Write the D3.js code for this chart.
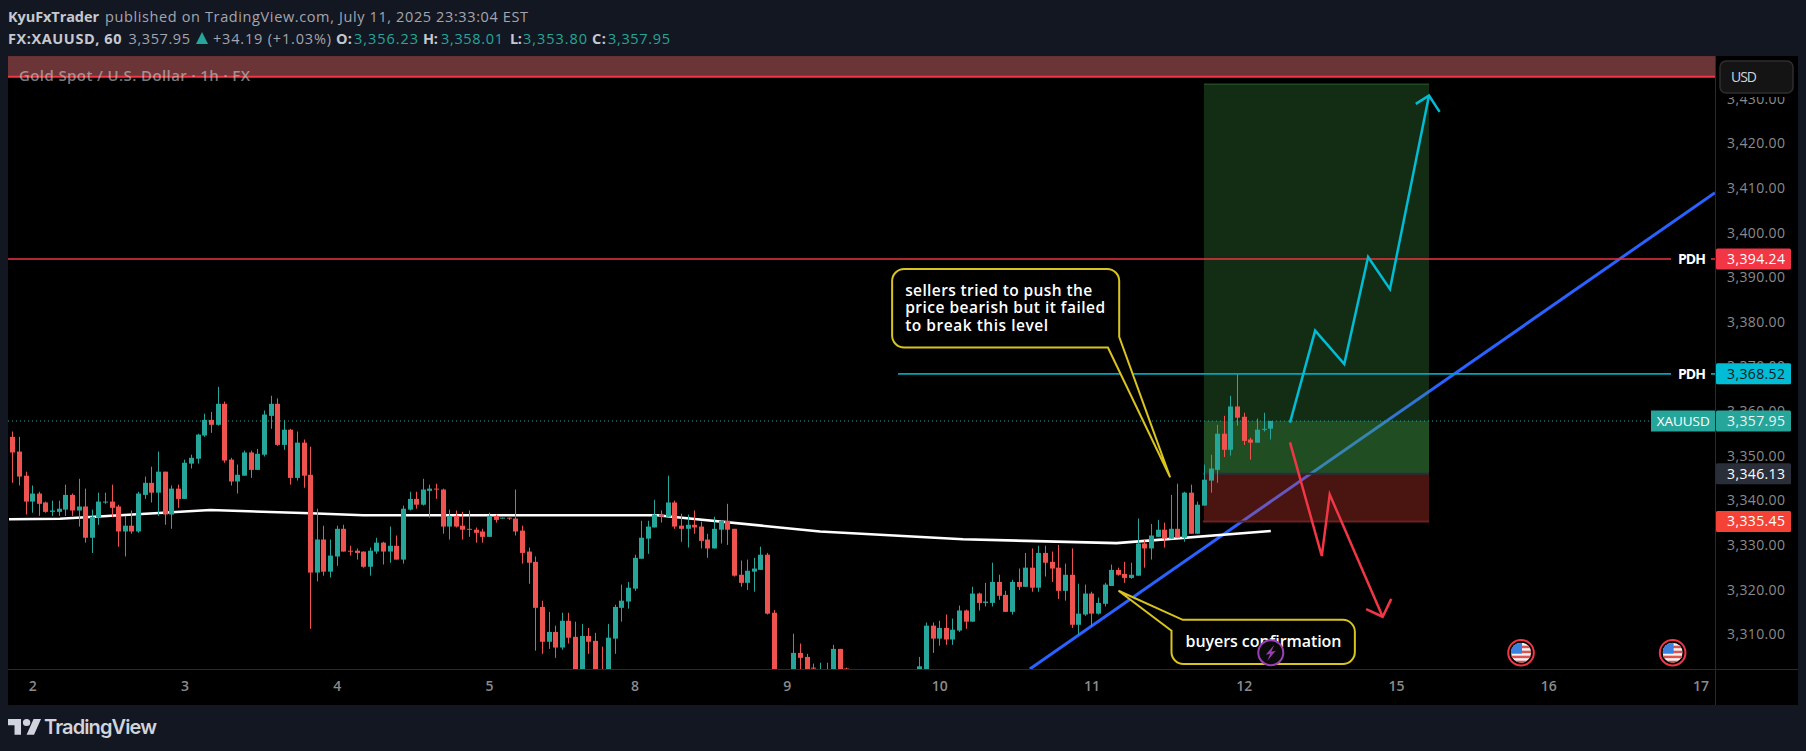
<!DOCTYPE html>
<html>
<head>
<meta charset="utf-8">
<script src="https://cdn.jsdelivr.net/npm/d3@7"></script>
<style>
  html, body { margin: 0; padding: 0; background: #131722; overflow: hidden; }
  text { font-family: "Open Sans", sans-serif; }
</style>
</head>
<body>
<div id="chart"></div>
<script>
// hourly candles. 116-117, 127-136 sit below the pane so those are guesses
const opens = [
  3354.4,3351.1,3345.7,3339.9,3341.7,3339.7,3337.6,3337.6,3338.1,3341.4,
  3337.9,3338.8,3331.8,3336.3,3339.7,3339.9,3338.8,3333.2,3334.5,3333.2,
  3341.4,3344.1,3341.9,3346.6,3337.0,3342.8,3340.5,3348.4,3349.5,3354.7,
  3358.2,3357.1,3361.8,3349.3,3344.4,3345.7,3350.9,3347.0,3350.4,3359.1,
  3361.8,3352.6,3356.0,3345.2,3353.1,3345.9,3324.0,3331.4,3324.2,3327.6,
  3333.8,3328.9,3328.9,3328.7,3325.3,3328.7,3330.7,3328.7,3330.0,3326.9,
  3338.1,3340.5,3339.2,3342.3,3342.8,3342.6,3334.3,3336.7,3334.5,3333.8,
  3333.6,3333.2,3332.0,3336.7,3336.1,3336.3,3336.1,3333.4,3328.7,3326.4,
  3316.3,3308.5,3310.7,3307.2,3313.2,3309.6,3300.0,3309.8,3308.7,3301.9,
  3300.0,3309.2,3316.1,3317.5,3320.4,3327.1,3331.6,3334.1,3337.0,3336.5,
  3339.7,3334.5,3333.8,3334.7,3334.3,3331.4,3329.4,3333.6,3335.6,3333.8,
  3323.5,3321.7,3324.2,3324.6,3328.0,3315.0,3301.0,3298.0,3300.0,3306.0,
  3305.1,3302.7,3300.0,3299.0,3300.0,3306.9,3302.5,3300.5,3298.4,3299.2,
  3298.0,3296.6,3298.1,3299.6,3297.9,3298.9,3300.7,3300.0,3300.0,3312.1,
  3309.2,3311.6,3309.0,3311.0,3315.5,3313.0,3319.3,3317.2,3317.2,3321.9,
  3319.0,3315.2,3321.9,3320.8,3325.1,3320.6,3328.4,3326.4,3325.1,3319.9,
  3323.5,3312.3,3314.6,3319.3,3314.8,3317.0,3321.0,3324.6,3323.7,3322.8,
  3323.3,3330.5,3329.4,3332.0,3333.6,3331.6,3333.8,3331.8,3341.9,3332.7,
  3339.0,3344.6,3347.0,3355.1,3351.5,3361.2,3358.9,3353.8,3353.1,3356.0,3356.23
];
const closes = [
  3350.9,3345.5,3339.9,3341.7,3339.4,3337.6,3337.9,3338.3,3341.4,3337.9,
  3338.8,3331.8,3336.5,3339.9,3339.9,3338.5,3333.2,3334.5,3333.2,3341.7,
  3344.1,3341.9,3346.6,3337.0,3342.8,3340.5,3348.6,3349.7,3354.9,3358.2,
  3357.1,3361.8,3349.1,3344.4,3345.9,3350.9,3347.0,3350.6,3359.4,3361.8,
  3352.6,3356.0,3345.2,3353.1,3345.7,3324.0,3331.4,3324.2,3327.8,3333.8,
  3328.7,3328.7,3328.4,3325.3,3328.9,3330.7,3328.7,3330.0,3326.9,3338.3,
  3340.5,3339.2,3342.6,3342.8,3342.6,3334.3,3336.7,3334.3,3333.6,3333.6,
  3332.9,3332.0,3336.7,3335.8,3336.3,3336.1,3333.2,3328.4,3326.2,3316.1,
  3308.5,3310.7,3307.2,3313.2,3309.4,3300.0,3309.8,3308.5,3300.0,3300.4,
  3309.4,3316.3,3317.7,3320.6,3327.3,3331.8,3334.3,3337.0,3336.5,3339.7,
  3334.3,3333.8,3334.7,3334.1,3331.1,3329.4,3333.8,3335.6,3333.6,3323.3,
  3321.7,3324.4,3324.9,3328.0,3314.8,3300.0,3299.0,3300.0,3306.0,3304.9,
  3300.0,3302.5,3302.0,3301.5,3306.9,3300.0,3300.0,3298.4,3299.2,3298.0,
  3296.6,3298.1,3299.6,3297.9,3298.9,3300.7,3300.0,3303.0,3312.1,3309.2,
  3311.6,3309.0,3311.2,3315.5,3313.0,3319.3,3317.2,3317.5,3321.9,3318.8,
  3315.2,3321.9,3320.8,3325.1,3320.6,3328.4,3326.2,3324.9,3319.9,3323.5,
  3312.3,3314.8,3319.3,3314.8,3317.2,3321.3,3324.6,3323.5,3322.8,3323.5,
  3330.5,3329.4,3332.3,3333.6,3331.6,3333.8,3331.8,3341.9,3332.7,3339.2,
  3344.8,3347.3,3355.1,3351.5,3361.2,3358.7,3353.5,3353.1,3356.0,3356.2,3357.95
];
const highs = [
  3355.6,3354.4,3346.6,3343.5,3342.1,3339.9,3340.1,3340.1,3343.7,3341.7,
  3345.0,3342.8,3338.1,3341.9,3341.9,3343.7,3339.2,3336.7,3337.9,3342.1,
  3345.5,3347.7,3351.1,3346.6,3343.5,3343.7,3349.3,3350.4,3355.1,3359.6,
  3360.0,3365.6,3362.3,3349.7,3348.2,3351.3,3351.3,3351.7,3360.3,3363.6,
  3363.0,3358.2,3356.2,3355.6,3353.8,3352.2,3338.3,3334.5,3331.4,3334.5,
  3334.7,3330.0,3329.4,3328.7,3329.6,3331.8,3330.9,3334.3,3332.3,3339.0,
  3342.1,3342.1,3345.0,3343.7,3343.9,3342.8,3338.1,3337.9,3337.6,3337.9,
  3334.1,3333.8,3337.4,3337.0,3336.3,3336.3,3342.6,3334.5,3329.6,3327.6,
  3317.7,3315.2,3312.1,3315.0,3315.0,3313.0,3312.5,3311.6,3310.5,3307.4,
  3312.5,3316.8,3321.3,3321.9,3328.0,3335.6,3335.6,3340.3,3337.9,3345.7,
  3340.1,3337.2,3337.0,3337.9,3335.4,3332.7,3336.5,3335.8,3339.4,3333.8,
  3326.7,3326.9,3327.3,3329.8,3328.4,3315.6,3301.5,3301.0,3310.3,3308.1,
  3305.8,3303.6,3303.8,3303.8,3307.8,3306.9,3302.7,3301.2,3299.9,3301.0,
  3299.3,3298.8,3300.2,3300.6,3299.6,3301.4,3301.8,3305.1,3312.8,3312.8,
  3313.2,3314.6,3313.7,3316.6,3315.7,3320.8,3319.5,3321.7,3326.2,3323.5,
  3319.9,3322.4,3324.9,3328.4,3329.4,3330.0,3330.0,3328.7,3330.2,3326.0,
  3329.4,3321.5,3321.3,3319.7,3318.4,3321.7,3325.8,3325.1,3326.4,3326.2,
  3336.1,3331.4,3334.9,3335.8,3335.2,3341.4,3343.9,3342.1,3343.7,3339.9,
  3348.2,3350.4,3357.1,3359.1,3363.6,3368.7,3359.8,3354.2,3358.5,3359.8,3358.01
];
const lows = [
  3344.1,3343.5,3337.0,3337.4,3336.7,3337.4,3336.7,3336.7,3336.7,3336.7,
  3334.3,3330.7,3328.4,3334.7,3339.4,3336.4,3329.8,3327.6,3332.7,3332.9,
  3340.5,3339.7,3336.7,3334.7,3333.8,3338.5,3340.5,3347.3,3348.4,3354.4,
  3355.3,3356.9,3348.6,3343.5,3341.7,3345.7,3345.2,3347.0,3350.0,3356.2,
  3352.4,3351.5,3343.7,3344.6,3343.0,3311.4,3322.0,3323.3,3322.9,3325.5,
  3328.7,3327.8,3326.9,3325.1,3323.3,3328.2,3325.8,3326.2,3326.9,3326.0,
  3337.9,3338.3,3339.0,3336.3,3340.5,3332.7,3331.4,3334.1,3331.4,3332.0,
  3330.7,3330.7,3332.0,3335.2,3336.1,3335.8,3332.3,3326.0,3321.5,3306.5,
  3305.8,3306.9,3304.9,3306.7,3308.1,3299.2,3299.0,3305.8,3299.0,3299.2,
  3299.0,3305.8,3313.0,3315.9,3319.9,3327.1,3328.2,3334.1,3335.2,3336.5,
  3333.8,3330.9,3329.6,3332.7,3329.4,3327.3,3329.4,3330.5,3330.2,3323.1,
  3320.8,3320.1,3319.7,3324.6,3314.6,3298.5,3298.0,3297.0,3299.5,3300.0,
  3299.5,3299.0,3299.0,3298.0,3299.0,3299.0,3299.0,3297.6,3296.8,3297.9,
  3295.6,3295.9,3297.2,3297.4,3296.8,3298.0,3299.2,3299.0,3299.0,3306.0,
  3307.6,3307.8,3307.8,3310.7,3311.4,3313.0,3315.5,3316.4,3316.4,3317.9,
  3315.2,3314.6,3320.1,3320.8,3319.7,3319.7,3323.1,3321.9,3318.1,3317.7,
  3311.6,3310.1,3314.3,3311.9,3314.6,3316.4,3321.0,3323.3,3321.7,3322.6,
  3323.3,3325.1,3326.9,3332.0,3329.6,3331.6,3331.8,3330.9,3332.7,3332.7,
  3339.0,3341.9,3344.1,3349.9,3350.2,3356.9,3352.6,3349.3,3353.1,3355.6,3353.80
];

const priceTicks = [3310,3320,3330,3340,3350,3360,3370,3380,3390,3400,3410,3420,3430];
const dayLabels = ['2','3','4','5','8','9','10','11','12','15','16','17'];
const dayBars = [3,26,49,72,94,117,140,163,186,209,232,255];

// moving average, drawings: [bar, price]
const maLine = [[-0.5,3335.93],[7.2,3336.06],[29.9,3338.0],[45,3337.27],[53,3336.83],[97.4,3336.83],[100.4,3336.4],[122,3333.2],[143.6,3331.45],[166.8,3330.6],[190.1,3333.3]];
const trendLine = [[153.7,3302.4],[257.2,3409.1]];
const upPath = [[193,3357.57],[196.8,3378.2],[201.2,3370.7],[204.8,3394.7],[208.1,3387.5],[214,3430.85]];
const upHead = [[212,3429.0],[214,3430.85],[215.6,3427.2]];
const downPath = [[193,3353.18],[197.8,3327.7],[199,3341.5],[207,3314.1]];
const downHead = [[204.5,3315.8],[207,3314.1],[208.3,3318.1]];

const lastPrice = 3357.95, pdhRed = 3394.24, pdhBlue = 3368.52, entry = 3346.13, stop = 3335.45, target = 3433.4;
const pdhBlueStart = 133.8;
const posStart = 180, posEnd = 214;
const zoneTop = 3439.7, zoneBottom = 3435.08;
const eventBars = [227.9, 250.8], eventPrice = 3306.05, flashBar = 190.1;

const note1Lines = ['sellers tried to push the', 'price bearish but it failed', 'to break this level'];
const note1Widths = [187, 200, 143];
const note2Lines = ['buyers confirmation'];

const width = 1806, height = 751;
const paneLeft = 8, paneRight = 1715, paneTop = 56, paneBottom = 669, chartRight = 1798, chartBottom = 705;
const green = '#26a69a', red = '#ef5350', tvRed = '#f23645', cyan = '#00bcd4', yellow = '#d9c31e';

const x = d3.scaleLinear().domain([0, 190]).range([12.33, 1270.13]);
const y = d3.scaleLinear().domain([3300, 3440]).range([679.69, 54.73]);
const line = d3.line().x(d => x(d[0])).y(d => y(d[1]));

const svg = d3.select('#chart').append('svg').attr('width', width).attr('height', height).style('display', 'block');

svg.append('rect').attr('x', paneLeft).attr('y', paneTop).attr('width', chartRight - paneLeft).attr('height', chartBottom - paneTop).attr('fill', '#000');

svg.append('clipPath').attr('id', 'pane').append('rect')
  .attr('x', paneLeft).attr('y', paneTop).attr('width', paneRight - paneLeft).attr('height', paneBottom - paneTop);

const pane = svg.append('g').attr('clip-path', 'url(#pane)');

// drawings under the candles
pane.append('path').attr('d', line(trendLine)).attr('fill', 'none').attr('stroke', '#2962ff').attr('stroke-width', 3);
pane.append('path').attr('d', line(maLine)).attr('fill', 'none').attr('stroke', '#fff').attr('stroke-width', 2.6);

pane.append('rect').attr('x', paneLeft).attr('width', paneRight - paneLeft)
  .attr('y', y(zoneTop)).attr('height', y(zoneBottom) - y(zoneTop)).attr('fill', '#6b3538');

// long position box
const box = (pTop, pBottom, fill) => pane.append('rect')
  .attr('x', x(posStart)).attr('width', x(posEnd) - x(posStart))
  .attr('y', y(pTop)).attr('height', y(pBottom) - y(pTop)).attr('fill', fill);
box(target, entry, 'rgba(76,175,80,0.25)');
box(lastPrice, entry, 'rgba(76,175,80,0.25)');
box(entry, stop, 'rgba(244,67,54,0.3)');

const hline = (price, from, to, color, w, dash) => pane.append('line')
  .attr('x1', from).attr('x2', to).attr('y1', y(price)).attr('y2', y(price))
  .attr('stroke', color).attr('stroke-width', w).attr('stroke-dasharray', dash || null);
hline(target, x(posStart), x(posEnd), '#234a23', 1.5);
hline(entry, x(posStart) - 1, x(posEnd), '#2a2e39', 2);
hline(stop, x(posStart) - 1, x(posEnd), '#6b2220', 2);
hline(zoneBottom, paneLeft, paneRight, tvRed, 2);
hline(lastPrice, paneLeft, 1651, green, 1, '1 3');

// candles
const bars = d3.range(opens.length);
const candle = pane.selectAll('g.candle').data(bars).enter().append('g').attr('class', 'candle')
  .attr('fill', i => closes[i] >= opens[i] ? green : red)
  .attr('stroke', i => closes[i] >= opens[i] ? green : red);
candle.append('line')
  .attr('x1', i => Math.round(x(i)) + 0.5).attr('x2', i => Math.round(x(i)) + 0.5)
  .attr('y1', i => y(highs[i])).attr('y2', i => y(lows[i]));
candle.append('rect')
  .attr('stroke', 'none')
  .attr('x', i => Math.round(x(i)) - 2)
  .attr('width', 5)
  .attr('y', i => y(Math.max(opens[i], closes[i])))
  .attr('height', i => Math.max(1, Math.abs(y(opens[i]) - y(closes[i]))));

// PDH lines
hline(pdhRed, paneLeft, paneRight, '#ee3342', 1.5);
hline(pdhBlue, x(pdhBlueStart), paneRight, '#00a5ba', 1.7);

// arrows
[[upPath, cyan], [upHead, cyan], [downPath, tvRed], [downHead, tvRed]].forEach(([pts, color]) => {
  pane.append('path').attr('d', line(pts)).attr('fill', 'none').attr('stroke', color).attr('stroke-width', 2.5);
});

// callouts
const note1 = { left: 132.9, right: 167.2, top: 3392, bottom: 3374.4, tip: [174.9, 3345.34], joinBar: 165.5, joinPrice: 3376.8 };
const note2 = { left: 175.1, right: 202.8, top: 3313.4, bottom: 3303.5, tip: [167.1, 3319.93], joinBar: 176.8, joinPrice: 3310.97 };

function calloutPath(n, tailCorner) {
  const r = 12;
  const l = x(n.left), rt = x(n.right), t = y(n.top), b = y(n.bottom);
  const p = d3.path();
  if (tailCorner === 'br') {
    p.moveTo(l + r, t);
    p.lineTo(rt - r, t);
    p.arcTo(rt, t, rt, t + r, r);
    p.lineTo(rt, y(n.joinPrice));
    p.lineTo(x(n.tip[0]), y(n.tip[1]));
    p.lineTo(x(n.joinBar), b);
    p.lineTo(l + r, b);
    p.arcTo(l, b, l, b - r, r);
    p.lineTo(l, t + r);
    p.arcTo(l, t, l + r, t, r);
  } else {
    p.moveTo(x(n.joinBar), t);
    p.lineTo(rt - r, t);
    p.arcTo(rt, t, rt, t + r, r);
    p.lineTo(rt, b - r);
    p.arcTo(rt, b, rt - r, b, r);
    p.lineTo(l + r, b);
    p.arcTo(l, b, l, b - r, r);
    p.lineTo(l, y(n.joinPrice));
    p.lineTo(x(n.tip[0]), y(n.tip[1]));
  }
  p.closePath();
  return p.toString();
}
pane.append('path').attr('d', calloutPath(note1, 'br')).attr('fill', '#000').attr('stroke', yellow).attr('stroke-width', 2);
pane.append('path').attr('d', calloutPath(note2, 'tl')).attr('fill', '#000').attr('stroke', yellow).attr('stroke-width', 2);

note1Lines.forEach((t, i) => {
  pane.append('text').attr('x', x(note1.left) + 13).attr('y', 295.5 + i * 17.6)
    .attr('fill', '#fff').attr('font-size', 15.5).attr('font-weight', 600).attr('textLength', note1Widths[i]).text(t);
});
pane.append('text').attr('x', x(note2.left) + 14).attr('y', 646.7)
  .attr('fill', '#fff').attr('font-size', 16).attr('font-weight', 600).attr('textLength', 156).text(note2Lines[0]);

// flash marker
const flash = pane.append('g').attr('transform', `translate(${x(flashBar)},${y(eventPrice)})`);
flash.append('circle').attr('r', 12.5).attr('fill', '#0a0a0a').attr('stroke', '#9c3fb5').attr('stroke-width', 2);
flash.append('path').attr('d', 'M3.5,-8 L-5,2 L-0.5,1 L-3.5,8 L5,-2 L0.5,-1 Z').attr('fill', '#9c3fb5');

// US event flags
svg.append('clipPath').attr('id', 'flagDisc').append('circle').attr('r', 10);
eventBars.forEach(b => {
  const g = pane.append('g').attr('transform', `translate(${x(b)},${y(eventPrice)})`);
  g.append('circle').attr('r', 12.8).attr('fill', '#000').attr('stroke', tvRed).attr('stroke-width', 2);
  const f = g.append('g').attr('clip-path', 'url(#flagDisc)');
  f.append('rect').attr('x', -10).attr('y', -10).attr('width', 20).attr('height', 20).attr('fill', '#f4f4f4');
  [-7, -2, 3, 8].forEach(s => f.append('rect').attr('x', -10).attr('y', s).attr('width', 20).attr('height', 2.5).attr('fill', '#e0524f'));
  f.append('rect').attr('x', -10).attr('y', -10).attr('width', 11).attr('height', 11).attr('fill', '#3b82e0');
});

// pane title on top of the zone
svg.append('text').attr('x', 19).attr('y', 81).attr('fill', 'rgba(205,205,205,0.6)')
  .attr('font-size', 15).attr('font-weight', 600).attr('textLength', 231).text('Gold Spot / U.S. Dollar · 1h · FX');

// axes
const grid = '#2a2a2a';
svg.append('line').attr('x1', paneRight + 0.5).attr('x2', paneRight + 0.5).attr('y1', paneTop).attr('y2', chartBottom).attr('stroke', grid);
svg.append('line').attr('x1', paneLeft).attr('x2', chartRight).attr('y1', paneBottom + 0.5).attr('y2', paneBottom + 0.5).attr('stroke', grid);

const yAxis = d3.axisRight(y).tickValues(priceTicks).tickFormat(d3.format(',.2f')).tickSize(0);
const yG = svg.append('g').attr('transform', `translate(${paneRight + 12},0)`).call(yAxis);
yG.select('.domain').remove();
yG.selectAll('text').attr('x', 0).attr('y', -0.7).attr('fill', '#8b8b8b').attr('textLength', 58)
  .style('font-size', '14px').style('font-family', '"Open Sans", sans-serif');

const xAxis = d3.axisBottom(x).tickValues(dayBars).tickFormat((d, i) => dayLabels[i]).tickSize(0);
const xG = svg.append('g').attr('transform', `translate(0,${paneBottom + 9})`).call(xAxis);
xG.select('.domain').remove();
xG.selectAll('text').attr('fill', '#8b8b8b').style('font-size', '14px').style('font-weight', '600').style('font-family', '"Open Sans", sans-serif');

// USD box hides the top of the scale
svg.append('rect').attr('x', paneRight + 1).attr('y', paneTop).attr('width', chartRight - paneRight - 1).attr('height', 41).attr('fill', '#000');
svg.append('rect').attr('x', 1720).attr('y', 61).attr('width', 73).attr('height', 32).attr('rx', 6)
  .attr('fill', '#141414').attr('stroke', '#2e2e2e').attr('stroke-width', 1.5);
svg.append('text').attr('x', 1731).attr('y', 82).attr('fill', '#d1d4dc').attr('font-size', 14).attr('textLength', 26).text('USD');

// price labels
const priceLabel = (price, fill, color) => {
  svg.append('rect').attr('x', paneRight + 1).attr('y', y(price) - 10.5).attr('width', 75).attr('height', 21).attr('rx', 1.5).attr('fill', fill);
  svg.append('text').attr('x', paneRight + 12).attr('y', y(price) + 5).attr('fill', color)
    .attr('font-size', 14).attr('textLength', 58).text(d3.format(',.2f')(price));
};
priceLabel(pdhRed, tvRed, '#fff');
priceLabel(pdhBlue, cyan, '#131722');
priceLabel(lastPrice, green, '#e8f5f3');
priceLabel(entry, '#2a2e39', '#fff');
priceLabel(stop, '#f44336', '#fff');

svg.append('rect').attr('x', 1651).attr('y', y(lastPrice) - 10.5).attr('width', 64).attr('height', 21).attr('fill', green);
svg.append('text').attr('x', 1656.7).attr('y', y(lastPrice) + 5).attr('fill', '#fff').attr('font-size', 13.5).attr('textLength', 53).text('XAUUSD');

[pdhRed, pdhBlue].forEach(p => {
  svg.append('rect').attr('x', 1671).attr('y', y(p) - 9).attr('width', 40).attr('height', 18).attr('fill', '#000');
  svg.append('text').attr('x', 1678).attr('y', y(p) + 5).attr('fill', '#fff').attr('font-size', 14).attr('font-weight', 700).attr('textLength', 28).text('PDH');
});

// header
const head = (tx, ty, t, color, weight, len) => svg.append('text').attr('x', tx).attr('y', ty)
  .attr('fill', color).attr('font-size', 14.5).attr('font-weight', weight || 400).attr('textLength', len).text(t);
const ink = '#c6c8cf', soft = '#a3a6af';
head(8, 22, 'KyuFxTrader', ink, 700, 91);
head(105, 22, 'published on TradingView.com, July 11, 2025 23:33:04 EST', soft, 400, 423);
head(8, 44, 'FX:XAUUSD, 60', ink, 700, 113.5);
head(128.5, 44, '3,357.95', soft, 400, 61.5);
svg.append('path').attr('d', 'M196,44 L202,32 L208,44 Z').attr('fill', green);
head(213, 44, '+34.19 (+1.03%)', soft, 400, 118);
head(336, 44, 'O:', ink, 700, 16);
head(354, 44, '3,356.23', green, 400, 64);
head(423, 44, 'H:', ink, 700, 15);
head(441, 44, '3,358.01', green, 400, 62);
head(510, 44, 'L:', ink, 700, 12);
head(523, 44, '3,353.80', green, 400, 64);
head(592, 44, 'C:', ink, 700, 14);
head(608, 44, '3,357.95', green, 400, 62);

// logo
const logo = svg.append('g').attr('transform', 'translate(8,715.5) scale(0.93,0.88)').attr('fill', '#d1d4dc');
logo.append('path').attr('d', 'M14 22H7V11H0V4h14v18ZM28 22h-8l7.5-18h8L28 22Z');
logo.append('circle').attr('cx', 20).attr('cy', 8).attr('r', 4);
svg.append('text').attr('x', 44).attr('y', 734).attr('fill', '#d1d4dc').attr('font-size', 20).attr('font-weight', 600)
  .attr('textLength', 113).style('font-family', 'Inter, sans-serif').text('TradingView');
</script>
</body>
</html>
